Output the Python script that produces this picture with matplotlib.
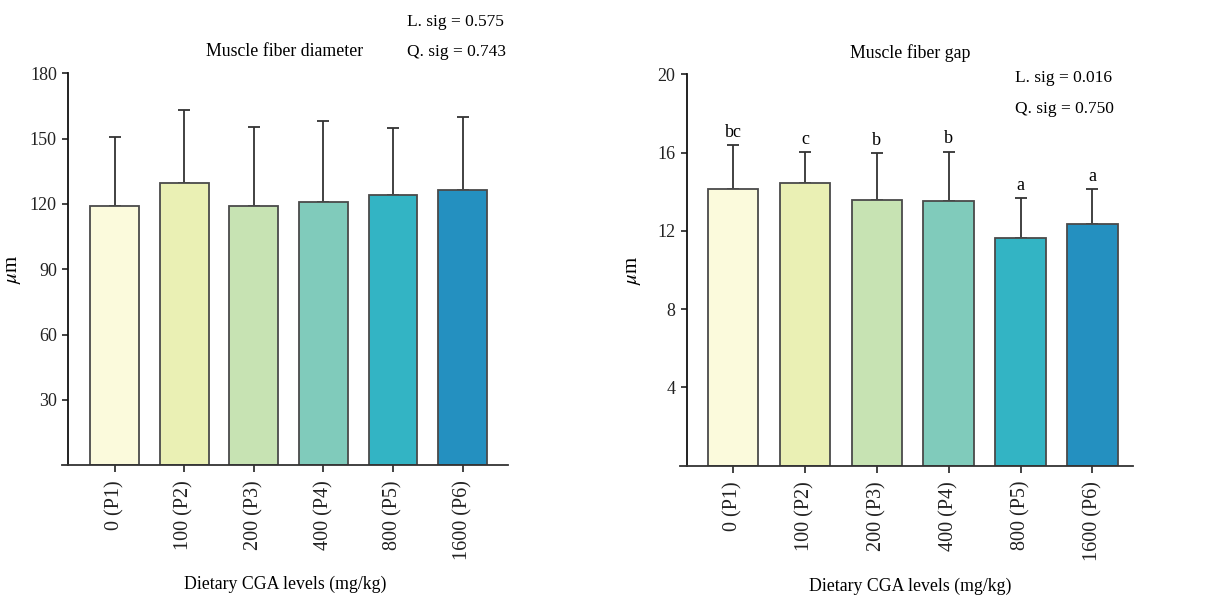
import matplotlib
matplotlib.use('Agg')
import matplotlib.pyplot as plt

plt.rcParams.update({
    'font.family': ['Liberation Serif', 'DejaVu Serif'],
    'mathtext.fontset': 'stix',
    'font.size': 12.5,
    'axes.linewidth': 1.3,
    'xtick.major.width': 1.2, 'ytick.major.width': 1.2,
    'xtick.major.size': 5, 'ytick.major.size': 4.5,
})

# data
groups = ['0 (P1)', '100 (P2)', '200 (P3)', '400 (P4)', '800 (P5)', '1600 (P6)']
colors = ['#fbfadc', '#eaf0b4', '#c7e3b3', '#80cbbb', '#33b4c4', '#2490c0']

diam_mean = [119.2, 129.6, 119.1, 120.9, 124.1, 126.3]
diam_sd = [31.8, 33.5, 36.5, 37.2, 30.8, 33.9]

gap_mean = [14.15, 14.45, 13.59, 13.53, 11.62, 12.35]
gap_sd = [2.25, 1.58, 2.40, 2.52, 2.04, 1.79]
gap_letters = ['bc', 'c', 'b', 'b', 'a', 'a']

W, H = 1212, 601
fig = plt.figure(figsize=(W / 100, H / 100), dpi=100)


def panel(rect, means, sds, ymax, yticks, spine_x, xlim, letters=None):
    ax = fig.add_axes(rect)
    xs = list(range(len(means)))
    ax.bar(xs, means, width=0.70, color=colors, edgecolor='#4a4a4a', linewidth=1.3, zorder=2)
    ax.errorbar(xs, means, yerr=[[0] * len(sds), sds], fmt='none', ecolor='#333333',
                elinewidth=1.3, capsize=4, capthick=1.3, zorder=1)
    if letters:
        for x, m, s, lab in zip(xs, means, sds, letters):
            ax.annotate(lab, (x, m + s), xytext=(0, 3), textcoords='offset points',
                        ha='center', va='bottom', fontsize=13)
    ax.set_xlim(*xlim)
    ax.set_ylim(0, ymax)
    ax.set_yticks(yticks)
    ax.set_xticks(xs)
    ax.set_xticklabels(groups, rotation=90)
    ax.spines['top'].set_visible(False)
    ax.spines['right'].set_visible(False)
    ax.spines['left'].set_position(('data', spine_x))
    ax.spines['left'].set_color('#111111')
    ax.spines['bottom'].set_color('#333333')
    ax.tick_params(colors='#222222', labelsize=13)
    ax.tick_params(axis='x', labelsize=14.5, pad=6)
    ax.set_ylabel(r'$\mu$m', fontsize=15)
    ax.set_xlabel('Dietary CGA levels (mg/kg)', fontsize=12.8)
    return ax


ax1 = panel([62 / W, 1 - 465 / H, (508 - 62) / W, (465 - 73.5) / H],
            diam_mean, diam_sd, 180, [30, 60, 90, 120, 150, 180], -0.668, (-0.754, 5.65))
ax1.yaxis.set_label_coords(-0.088, 0.5)
ax1.xaxis.set_label_coords(0.5, -0.283)

ax2 = panel([680 / W, 1 - 465.7 / H, (1132.7 - 680) / W, (465.7 - 74.3) / H],
            gap_mean, gap_sd, 20, [4, 8, 12, 16, 20], -0.644, (-0.737, 5.56), gap_letters)
ax2.yaxis.set_label_coords(-0.082, 0.5)
ax2.xaxis.set_label_coords(0.508, -0.285)

fig.text(285 / W, 1 - 52 / H, 'Muscle fiber diameter', ha='center', va='center', fontsize=12.8)
fig.text(407 / W, 1 - 22 / H, 'L. sig = 0.575', ha='left', va='center')
fig.text(407 / W, 1 - 52 / H, 'Q. sig = 0.743', ha='left', va='center')

fig.text(910 / W, 1 - 53 / H, 'Muscle fiber gap', ha='center', va='center', fontsize=12.8)
fig.text(1015 / W, 1 - 78 / H, 'L. sig = 0.016', ha='left', va='center')
fig.text(1015 / W, 1 - 109 / H, 'Q. sig = 0.750', ha='left', va='center')

fig.savefig('out.png', dpi=100)
